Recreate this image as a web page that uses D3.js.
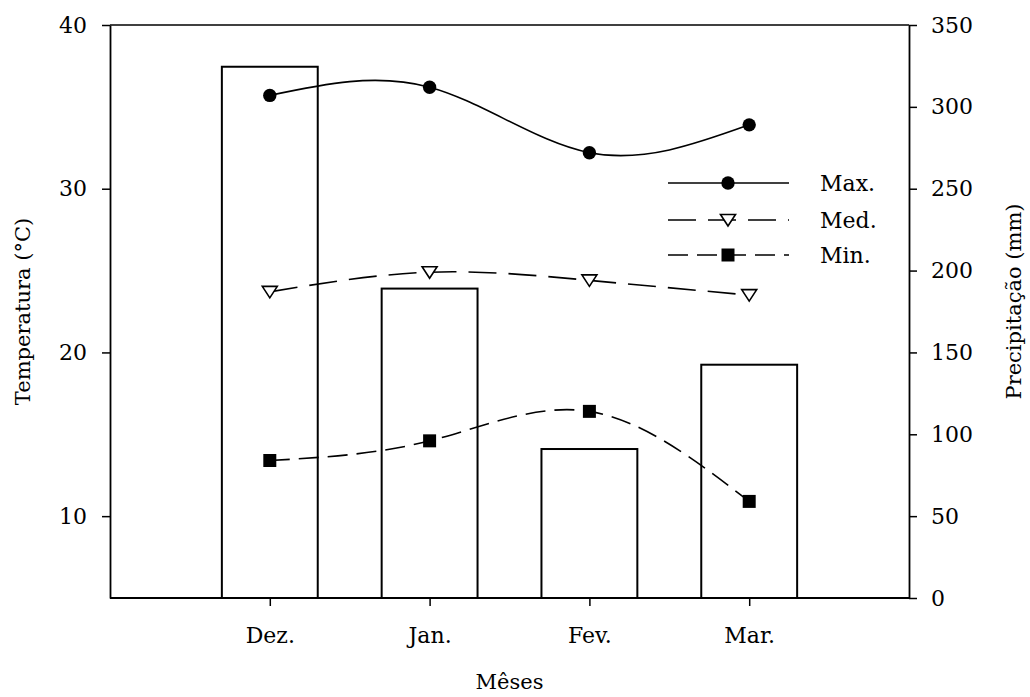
<!DOCTYPE html>
<html>
<head>
<meta charset="utf-8">
<script src="https://cdn.jsdelivr.net/npm/d3@7"></script>
<style>
  html, body { margin: 0; padding: 0; background: #fff; }
  svg text { font-family: "DejaVu Serif", serif; fill: #000; }
</style>
</head>
<body>
<div id="chart"></div>
<script>
// Monthly climate data
const months = ['Dez.', 'Jan.', 'Fev.', 'Mar.'];
const precip = [324.5, 189, 91, 142.5];      // mm, bars (right axis)
const tMax = [35.7, 36.2, 32.2, 33.9];       // °C
const tMed = [23.7, 24.9, 24.4, 23.5];       // °C
const tMin = [13.4, 14.6, 16.4, 10.9];       // °C
const tempTicks = [10, 20, 30, 40];
const precipTicks = [0, 50, 100, 150, 200, 250, 300, 350];

const W = 1030, H = 697;
const plotL = 110, plotR = 909, plotT = 25, plotB = 598;

const svg = d3.select('#chart')
  .append('svg')
  .attr('width', W)
  .attr('height', H);

const x = d3.scalePoint().domain(months).range([plotL, plotR]).padding(1);
const yT = d3.scaleLinear().domain([5, 40]).range([plotB, plotT]);
const yP = d3.scaleLinear().domain([0, 350]).range([plotB, plotT]);
const barW = x.step() * 0.6;

// bars (precipitation)
svg.append('g')
  .selectAll('rect')
  .data(months)
  .join('rect')
  .attr('x', d => x(d) - barW / 2)
  .attr('y', (d, i) => yP(precip[i]))
  .attr('width', barW)
  .attr('height', (d, i) => plotB - yP(precip[i]))
  .attr('fill', 'none')
  .attr('stroke', '#000')
  .attr('stroke-width', 2);

// frame: top border
svg.append('line')
  .attr('x1', plotL).attr('x2', plotR)
  .attr('y1', plotT).attr('y2', plotT)
  .attr('stroke', '#000').attr('stroke-width', 1.6);

// axes
const styleAxis = g => {
  g.select('.domain').attr('stroke', '#000').attr('stroke-width', 1.8);
  g.selectAll('.tick line').attr('stroke', '#000').attr('stroke-width', 1.5);
  g.selectAll('.tick text').attr('font-size', 22).attr('font-family', '"DejaVu Serif", serif');
};

svg.append('g')
  .attr('transform', `translate(${plotL},0)`)
  .call(d3.axisLeft(yT).tickValues(tempTicks).tickSize(8).tickSizeOuter(0).tickPadding(15).tickFormat(d3.format('d')))
  .call(styleAxis);

svg.append('g')
  .attr('transform', `translate(${plotR},0)`)
  .call(d3.axisRight(yP).tickValues(precipTicks).tickSize(8).tickSizeOuter(0).tickPadding(14).tickFormat(d3.format('d')))
  .call(styleAxis);

svg.append('g')
  .attr('transform', `translate(0,${plotB})`)
  .call(d3.axisBottom(x).tickSize(8).tickSizeOuter(0).tickPadding(21))
  .call(g => {
    g.select('.domain').attr('d', `M${plotL},0H${plotR}`);
  })
  .call(styleAxis);

// temperature lines
const series = [
  { name: 'Max.', values: tMax, dash: null, marker: 'circle' },
  { name: 'Med.', values: tMed, dash: '28,12', marker: 'triangle' },
  { name: 'Min.', values: tMin, dash: '20,9', marker: 'square' }
];

const line = d3.line()
  .x(d => x(d.m))
  .y(d => yT(d.v))
  .curve(d3.curveNatural);

const sym = {
  circle: d3.symbol().type(d3.symbolCircle).size(Math.PI * 6.7 * 6.7),
  square: d3.symbol().type(d3.symbolSquare).size(13 * 13)
};
const triPath = 'M-7.5,-5.5L7.5,-5.5L0,6Z';

function drawMarker(g, type) {
  if (type === 'triangle') {
    g.append('path').attr('d', triPath)
      .attr('fill', '#fff').attr('stroke', '#000').attr('stroke-width', 1.6);
  } else {
    g.append('path').attr('d', sym[type]()).attr('fill', '#000');
  }
}

series.forEach(s => {
  const pts = months.map((m, i) => ({ m, v: s.values[i] }));
  svg.append('path')
    .datum(pts)
    .attr('d', line)
    .attr('fill', 'none')
    .attr('stroke', '#000')
    .attr('stroke-width', 1.6)
    .attr('stroke-dasharray', s.dash);
  pts.forEach(p => {
    const g = svg.append('g').attr('transform', `translate(${x(p.m)},${yT(p.v)})`);
    drawMarker(g, s.marker);
  });
});

// legend
const legendY = [183, 220, 255];
series.forEach((s, i) => {
  const g = svg.append('g').attr('transform', `translate(0,${legendY[i]})`);
  g.append('line')
    .attr('x1', 668).attr('x2', 789)
    .attr('stroke', '#000').attr('stroke-width', 1.6)
    .attr('stroke-dasharray', s.dash);
  const m = g.append('g').attr('transform', 'translate(728,0)');
  drawMarker(m, s.marker);
  g.append('text')
    .attr('x', 820).attr('y', 0)
    .attr('dy', '0.35em')
    .attr('font-size', 22)
    .text(s.name);
});

// axis titles
svg.append('text')
  .attr('transform', `translate(30,${(plotT + plotB) / 2}) rotate(-90)`)
  .attr('text-anchor', 'middle')
  .attr('font-size', 21)
  .text('Temperatura (°C)');

svg.append('text')
  .attr('transform', `translate(1021,${(plotT + plotB) / 2 - 10}) rotate(-90)`)
  .attr('text-anchor', 'middle')
  .attr('font-size', 21)
  .text('Precipitação (mm)');

svg.append('text')
  .attr('x', (plotL + plotR) / 2)
  .attr('y', 689)
  .attr('text-anchor', 'middle')
  .attr('font-size', 21)
  .text('Mêses');
</script>
</body>
</html>
